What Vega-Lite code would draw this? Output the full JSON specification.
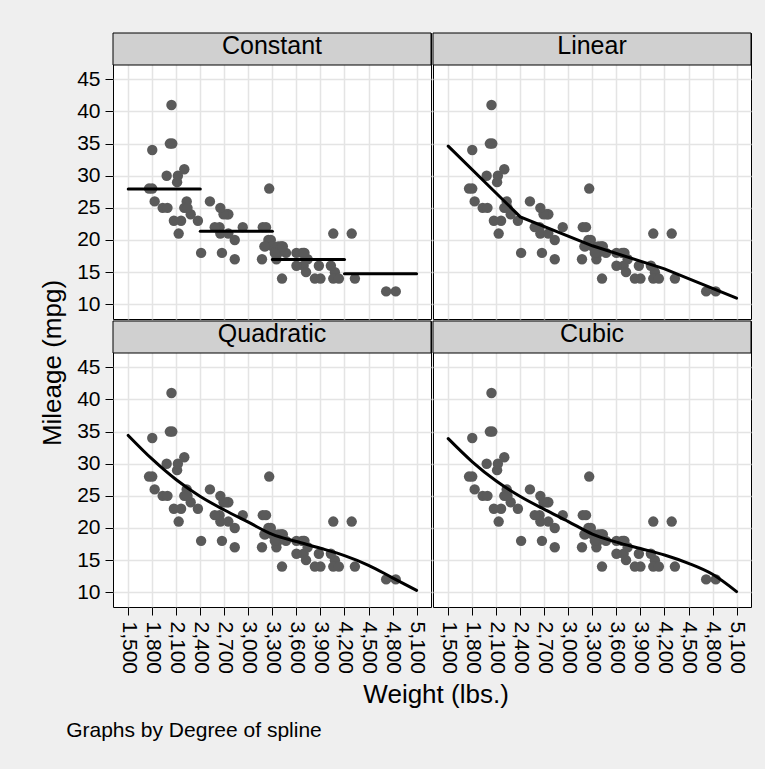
{
  "$schema": "https://vega.github.io/schema/vega-lite/v6.json",
  "background": "#efefef",
  "padding": {"left": 40, "top": 32, "right": 13, "bottom": 30},
  "config": {
    "font": "Liberation Sans",
    "view": {"stroke": "black", "strokeWidth": 1, "fill": "white"},
    "axis": {"domain": false, "gridColor": "#e4e4e4", "gridWidth": 1.5, "labelFontSize": 21, "labelColor": "black", "labelFont": "Liberation Sans", "tickColor": "black", "tickSize": 8, "tickWidth": 1, "labelPadding": 5, "labelOverlap": false, "labelFlush": false},
    "title": {"fontWeight": "normal", "color": "black", "font": "Liberation Sans"}
  },
  "datasets": {
    "auto": [
      {"weight": 2930, "mpg": 22}, {"weight": 3350, "mpg": 17}, {"weight": 2640, "mpg": 22}, {"weight": 3250, "mpg": 20},
      {"weight": 4080, "mpg": 15}, {"weight": 3670, "mpg": 18}, {"weight": 2230, "mpg": 26}, {"weight": 3280, "mpg": 20},
      {"weight": 3880, "mpg": 16}, {"weight": 3400, "mpg": 19}, {"weight": 4330, "mpg": 14}, {"weight": 3900, "mpg": 14},
      {"weight": 4290, "mpg": 21}, {"weight": 2110, "mpg": 29}, {"weight": 3690, "mpg": 16}, {"weight": 3180, "mpg": 22},
      {"weight": 3220, "mpg": 22}, {"weight": 2750, "mpg": 24}, {"weight": 3430, "mpg": 19}, {"weight": 2120, "mpg": 30},
      {"weight": 3600, "mpg": 18}, {"weight": 3600, "mpg": 16}, {"weight": 3740, "mpg": 17}, {"weight": 1800, "mpg": 28},
      {"weight": 2650, "mpg": 21}, {"weight": 4840, "mpg": 12}, {"weight": 4720, "mpg": 12}, {"weight": 3830, "mpg": 14},
      {"weight": 2580, "mpg": 22}, {"weight": 4060, "mpg": 14}, {"weight": 3720, "mpg": 15}, {"weight": 3370, "mpg": 18},
      {"weight": 4130, "mpg": 14}, {"weight": 2830, "mpg": 20}, {"weight": 4060, "mpg": 21}, {"weight": 3310, "mpg": 19},
      {"weight": 3300, "mpg": 19}, {"weight": 3690, "mpg": 18}, {"weight": 3370, "mpg": 19}, {"weight": 2730, "mpg": 24},
      {"weight": 4030, "mpg": 16}, {"weight": 3260, "mpg": 28}, {"weight": 1800, "mpg": 34}, {"weight": 2200, "mpg": 25},
      {"weight": 2520, "mpg": 26}, {"weight": 3330, "mpg": 18}, {"weight": 3700, "mpg": 18}, {"weight": 3470, "mpg": 18},
      {"weight": 3210, "mpg": 19}, {"weight": 3200, "mpg": 19}, {"weight": 3420, "mpg": 19}, {"weight": 2690, "mpg": 24},
      {"weight": 2830, "mpg": 17}, {"weight": 2070, "mpg": 23}, {"weight": 2650, "mpg": 25}, {"weight": 2370, "mpg": 23},
      {"weight": 2020, "mpg": 35}, {"weight": 2280, "mpg": 24}, {"weight": 2750, "mpg": 21}, {"weight": 2130, "mpg": 21},
      {"weight": 2240, "mpg": 25}, {"weight": 1760, "mpg": 28}, {"weight": 1980, "mpg": 30}, {"weight": 3420, "mpg": 14},
      {"weight": 1830, "mpg": 26}, {"weight": 2050, "mpg": 35}, {"weight": 2410, "mpg": 18}, {"weight": 2200, "mpg": 31},
      {"weight": 2670, "mpg": 18}, {"weight": 2160, "mpg": 23}, {"weight": 2040, "mpg": 41}, {"weight": 1930, "mpg": 25},
      {"weight": 1990, "mpg": 25}, {"weight": 3170, "mpg": 17}
    ],
    "fits": [
      {"degree": "Constant", "seg": 1, "weight": 1500, "fit": 27.95},
      {"degree": "Constant", "seg": 1, "weight": 2400, "fit": 27.95},
      {"degree": "Constant", "seg": 2, "weight": 2400, "fit": 21.35},
      {"degree": "Constant", "seg": 2, "weight": 3300, "fit": 21.35},
      {"degree": "Constant", "seg": 3, "weight": 3300, "fit": 16.95},
      {"degree": "Constant", "seg": 3, "weight": 4200, "fit": 16.95},
      {"degree": "Constant", "seg": 4, "weight": 4200, "fit": 14.75},
      {"degree": "Constant", "seg": 4, "weight": 5100, "fit": 14.75},
      {"degree": "Linear", "seg": 1, "weight": 1500, "fit": 34.6},
      {"degree": "Linear", "seg": 1, "weight": 2400, "fit": 23.6},
      {"degree": "Linear", "seg": 1, "weight": 3300, "fit": 19.1},
      {"degree": "Linear", "seg": 1, "weight": 4200, "fit": 15.5},
      {"degree": "Linear", "seg": 1, "weight": 5100, "fit": 10.95},
      {"degree": "Quadratic", "seg": 1, "weight": 1500, "fit": 34.4},
      {"degree": "Quadratic", "seg": 1, "weight": 1800, "fit": 30.7},
      {"degree": "Quadratic", "seg": 1, "weight": 2100, "fit": 27.5},
      {"degree": "Quadratic", "seg": 1, "weight": 2400, "fit": 24.9},
      {"degree": "Quadratic", "seg": 1, "weight": 2700, "fit": 22.8},
      {"degree": "Quadratic", "seg": 1, "weight": 3000, "fit": 20.9},
      {"degree": "Quadratic", "seg": 1, "weight": 3300, "fit": 19.0},
      {"degree": "Quadratic", "seg": 1, "weight": 3600, "fit": 17.9},
      {"degree": "Quadratic", "seg": 1, "weight": 3900, "fit": 16.85},
      {"degree": "Quadratic", "seg": 1, "weight": 4200, "fit": 15.7},
      {"degree": "Quadratic", "seg": 1, "weight": 4500, "fit": 14.2},
      {"degree": "Quadratic", "seg": 1, "weight": 4800, "fit": 12.25},
      {"degree": "Quadratic", "seg": 1, "weight": 5100, "fit": 10.3},
      {"degree": "Cubic", "seg": 1, "weight": 1500, "fit": 33.9},
      {"degree": "Cubic", "seg": 1, "weight": 1800, "fit": 30.3},
      {"degree": "Cubic", "seg": 1, "weight": 2100, "fit": 27.3},
      {"degree": "Cubic", "seg": 1, "weight": 2400, "fit": 24.9},
      {"degree": "Cubic", "seg": 1, "weight": 2700, "fit": 22.9},
      {"degree": "Cubic", "seg": 1, "weight": 3000, "fit": 21.0},
      {"degree": "Cubic", "seg": 1, "weight": 3300, "fit": 19.05},
      {"degree": "Cubic", "seg": 1, "weight": 3600, "fit": 17.8},
      {"degree": "Cubic", "seg": 1, "weight": 3900, "fit": 16.8},
      {"degree": "Cubic", "seg": 1, "weight": 4200, "fit": 15.8},
      {"degree": "Cubic", "seg": 1, "weight": 4500, "fit": 14.5},
      {"degree": "Cubic", "seg": 1, "weight": 4800, "fit": 12.8},
      {"degree": "Cubic", "seg": 1, "weight": 5100, "fit": 10.1}
    ]
  },
  "title": {"text": "Graphs by Degree of spline", "orient": "bottom", "anchor": "start", "fontSize": 21, "offset": 12, "dx": 26},
  "spacing": 0,
  "vconcat": [
    {
      "title": {"text": "Weight (lbs.)", "orient": "bottom", "anchor": "middle", "fontSize": 26, "offset": 8, "dx": 40},
      "spacing": 0,
      "vconcat": [
        {
          "title": {"text": "Mileage (mpg)", "orient": "left", "anchor": "middle", "fontSize": 26, "offset": 10, "dx": -10},
          "spacing": 0,
          "vconcat": [
            {
              "spacing": 0,
              "hconcat": [
                {
                  "width": 318, "height": 286,
                  "layer": [
                    {"data": {"values": [{"degree": "Constant"}]}, "mark": {"type": "rect", "fill": "#d0d0d0", "stroke": "black", "strokeWidth": 1},
                     "encoding": {"y": {"datum": 47.22, "type": "quantitative", "scale": {"domain": [7.71, 52.2], "nice": false, "zero": false}, "axis": {"values": [10, 15, 20, 25, 30, 35, 40, 45], "title": null, "grid": true}}, "y2": {"datum": 52.2}}},
                    {"data": {"values": [{"degree": "Constant"}]}, "mark": {"type": "text", "fontSize": 25, "baseline": "alphabetic", "color": "black"},
                     "encoding": {"x": {"datum": 3295, "type": "quantitative", "scale": {"domain": [1310, 5280], "nice": false, "zero": false}, "axis": {"values": [1500, 1800, 2100, 2400, 2700, 3000, 3300, 3600, 3900, 4200, 4500, 4800, 5100], "title": null, "grid": true, "labels": false, "ticks": false}}, "y": {"datum": 48.9, "type": "quantitative", "axis": {"values": [10, 15, 20, 25, 30, 35, 40, 45], "title": null, "grid": true}}, "text": {"field": "degree"}}},
                    {"data": {"name": "auto"}, "mark": {"type": "circle", "size": 108, "color": "#5a5a5a", "opacity": 1},
                     "encoding": {
                       "x": {"field": "weight", "type": "quantitative", "scale": {"domain": [1310, 5280], "nice": false, "zero": false}, "axis": {"values": [1500, 1800, 2100, 2400, 2700, 3000, 3300, 3600, 3900, 4200, 4500, 4800, 5100], "title": null, "grid": true, "labels": false, "ticks": false}},
                       "y": {"field": "mpg", "type": "quantitative", "scale": {"domain": [7.71, 52.2], "nice": false, "zero": false}, "axis": {"values": [10, 15, 20, 25, 30, 35, 40, 45], "title": null, "grid": true}}}},
                    {"data": {"name": "fits"}, "transform": [{"filter": "datum.degree === 'Constant'"}], "mark": {"type": "line", "color": "black", "strokeWidth": 3, "strokeCap": "round"},
                     "encoding": {"x": {"field": "weight", "type": "quantitative", "axis": {"values": [1500, 1800, 2100, 2400, 2700, 3000, 3300, 3600, 3900, 4200, 4500, 4800, 5100], "title": null, "grid": true, "labels": false, "ticks": false}}, "y": {"field": "fit", "type": "quantitative", "axis": {"values": [10, 15, 20, 25, 30, 35, 40, 45], "title": null, "grid": true}}, "detail": {"field": "seg"}}}
                  ]
                },
                {
                  "width": 318, "height": 286,
                  "layer": [
                    {"data": {"values": [{"degree": "Linear"}]}, "mark": {"type": "rect", "fill": "#d0d0d0", "stroke": "black", "strokeWidth": 1},
                     "encoding": {"y": {"datum": 47.22, "type": "quantitative", "scale": {"domain": [7.71, 52.2], "nice": false, "zero": false}, "axis": {"values": [10, 15, 20, 25, 30, 35, 40, 45], "title": null, "grid": true, "labels": false, "ticks": false}}, "y2": {"datum": 52.2}}},
                    {"data": {"values": [{"degree": "Linear"}]}, "mark": {"type": "text", "fontSize": 25, "baseline": "alphabetic", "color": "black"},
                     "encoding": {"x": {"datum": 3295, "type": "quantitative", "scale": {"domain": [1310, 5280], "nice": false, "zero": false}, "axis": {"values": [1500, 1800, 2100, 2400, 2700, 3000, 3300, 3600, 3900, 4200, 4500, 4800, 5100], "title": null, "grid": true, "labels": false, "ticks": false}}, "y": {"datum": 48.9, "type": "quantitative", "axis": {"values": [10, 15, 20, 25, 30, 35, 40, 45], "title": null, "grid": true, "labels": false, "ticks": false}}, "text": {"field": "degree"}}},
                    {"data": {"name": "auto"}, "mark": {"type": "circle", "size": 108, "color": "#5a5a5a", "opacity": 1},
                     "encoding": {
                       "x": {"field": "weight", "type": "quantitative", "scale": {"domain": [1310, 5280], "nice": false, "zero": false}, "axis": {"values": [1500, 1800, 2100, 2400, 2700, 3000, 3300, 3600, 3900, 4200, 4500, 4800, 5100], "title": null, "grid": true, "labels": false, "ticks": false}},
                       "y": {"field": "mpg", "type": "quantitative", "scale": {"domain": [7.71, 52.2], "nice": false, "zero": false}, "axis": {"values": [10, 15, 20, 25, 30, 35, 40, 45], "title": null, "grid": true, "labels": false, "ticks": false}}}},
                    {"data": {"name": "fits"}, "transform": [{"filter": "datum.degree === 'Linear'"}], "mark": {"type": "line", "color": "black", "strokeWidth": 3, "strokeCap": "round"},
                     "encoding": {"x": {"field": "weight", "type": "quantitative", "axis": {"values": [1500, 1800, 2100, 2400, 2700, 3000, 3300, 3600, 3900, 4200, 4500, 4800, 5100], "title": null, "grid": true, "labels": false, "ticks": false}}, "y": {"field": "fit", "type": "quantitative", "axis": {"values": [10, 15, 20, 25, 30, 35, 40, 45], "title": null, "grid": true, "labels": false, "ticks": false}}}}
                  ]
                }
              ]
            },
            {
              "spacing": 0,
              "hconcat": [
                {
                  "width": 318, "height": 286,
                  "layer": [
                    {"data": {"values": [{"degree": "Quadratic"}]}, "mark": {"type": "rect", "fill": "#d0d0d0", "stroke": "black", "strokeWidth": 1},
                     "encoding": {"y": {"datum": 47.22, "type": "quantitative", "scale": {"domain": [7.71, 52.2], "nice": false, "zero": false}, "axis": {"values": [10, 15, 20, 25, 30, 35, 40, 45], "title": null, "grid": true}}, "y2": {"datum": 52.2}}},
                    {"data": {"values": [{"degree": "Quadratic"}]}, "mark": {"type": "text", "fontSize": 25, "baseline": "alphabetic", "color": "black"},
                     "encoding": {"x": {"datum": 3295, "type": "quantitative", "scale": {"domain": [1310, 5280], "nice": false, "zero": false}, "axis": {"values": [1500, 1800, 2100, 2400, 2700, 3000, 3300, 3600, 3900, 4200, 4500, 4800, 5100], "title": null, "grid": true, "labelExpr": "format(datum.value, ',')", "labelAngle": 90, "labelPadding": 6}}, "y": {"datum": 48.9, "type": "quantitative", "axis": {"values": [10, 15, 20, 25, 30, 35, 40, 45], "title": null, "grid": true}}, "text": {"field": "degree"}}},
                    {"data": {"name": "auto"}, "mark": {"type": "circle", "size": 108, "color": "#5a5a5a", "opacity": 1},
                     "encoding": {
                       "x": {"field": "weight", "type": "quantitative", "scale": {"domain": [1310, 5280], "nice": false, "zero": false}, "axis": {"values": [1500, 1800, 2100, 2400, 2700, 3000, 3300, 3600, 3900, 4200, 4500, 4800, 5100], "title": null, "grid": true, "labelExpr": "format(datum.value, ',')", "labelAngle": 90, "labelPadding": 6}},
                       "y": {"field": "mpg", "type": "quantitative", "scale": {"domain": [7.71, 52.2], "nice": false, "zero": false}, "axis": {"values": [10, 15, 20, 25, 30, 35, 40, 45], "title": null, "grid": true}}}},
                    {"data": {"name": "fits"}, "transform": [{"filter": "datum.degree === 'Quadratic'"}], "mark": {"type": "line", "color": "black", "strokeWidth": 3, "strokeCap": "round", "interpolate": "monotone"},
                     "encoding": {"x": {"field": "weight", "type": "quantitative", "axis": {"values": [1500, 1800, 2100, 2400, 2700, 3000, 3300, 3600, 3900, 4200, 4500, 4800, 5100], "title": null, "grid": true, "labelExpr": "format(datum.value, ',')", "labelAngle": 90, "labelPadding": 6}}, "y": {"field": "fit", "type": "quantitative", "axis": {"values": [10, 15, 20, 25, 30, 35, 40, 45], "title": null, "grid": true}}}}
                  ]
                },
                {
                  "width": 318, "height": 286,
                  "layer": [
                    {"data": {"values": [{"degree": "Cubic"}]}, "mark": {"type": "rect", "fill": "#d0d0d0", "stroke": "black", "strokeWidth": 1},
                     "encoding": {"y": {"datum": 47.22, "type": "quantitative", "scale": {"domain": [7.71, 52.2], "nice": false, "zero": false}, "axis": {"values": [10, 15, 20, 25, 30, 35, 40, 45], "title": null, "grid": true, "labels": false, "ticks": false}}, "y2": {"datum": 52.2}}},
                    {"data": {"values": [{"degree": "Cubic"}]}, "mark": {"type": "text", "fontSize": 25, "baseline": "alphabetic", "color": "black"},
                     "encoding": {"x": {"datum": 3295, "type": "quantitative", "scale": {"domain": [1310, 5280], "nice": false, "zero": false}, "axis": {"values": [1500, 1800, 2100, 2400, 2700, 3000, 3300, 3600, 3900, 4200, 4500, 4800, 5100], "title": null, "grid": true, "labelExpr": "format(datum.value, ',')", "labelAngle": 90, "labelPadding": 6}}, "y": {"datum": 48.9, "type": "quantitative", "axis": {"values": [10, 15, 20, 25, 30, 35, 40, 45], "title": null, "grid": true, "labels": false, "ticks": false}}, "text": {"field": "degree"}}},
                    {"data": {"name": "auto"}, "mark": {"type": "circle", "size": 108, "color": "#5a5a5a", "opacity": 1},
                     "encoding": {
                       "x": {"field": "weight", "type": "quantitative", "scale": {"domain": [1310, 5280], "nice": false, "zero": false}, "axis": {"values": [1500, 1800, 2100, 2400, 2700, 3000, 3300, 3600, 3900, 4200, 4500, 4800, 5100], "title": null, "grid": true, "labelExpr": "format(datum.value, ',')", "labelAngle": 90, "labelPadding": 6}},
                       "y": {"field": "mpg", "type": "quantitative", "scale": {"domain": [7.71, 52.2], "nice": false, "zero": false}, "axis": {"values": [10, 15, 20, 25, 30, 35, 40, 45], "title": null, "grid": true, "labels": false, "ticks": false}}}},
                    {"data": {"name": "fits"}, "transform": [{"filter": "datum.degree === 'Cubic'"}], "mark": {"type": "line", "color": "black", "strokeWidth": 3, "strokeCap": "round", "interpolate": "monotone"},
                     "encoding": {"x": {"field": "weight", "type": "quantitative", "axis": {"values": [1500, 1800, 2100, 2400, 2700, 3000, 3300, 3600, 3900, 4200, 4500, 4800, 5100], "title": null, "grid": true, "labelExpr": "format(datum.value, ',')", "labelAngle": 90, "labelPadding": 6}}, "y": {"field": "fit", "type": "quantitative", "axis": {"values": [10, 15, 20, 25, 30, 35, 40, 45], "title": null, "grid": true, "labels": false, "ticks": false}}}}
                  ]
                }
              ]
            }
          ]
        }
      ]
    }
  ]
}
